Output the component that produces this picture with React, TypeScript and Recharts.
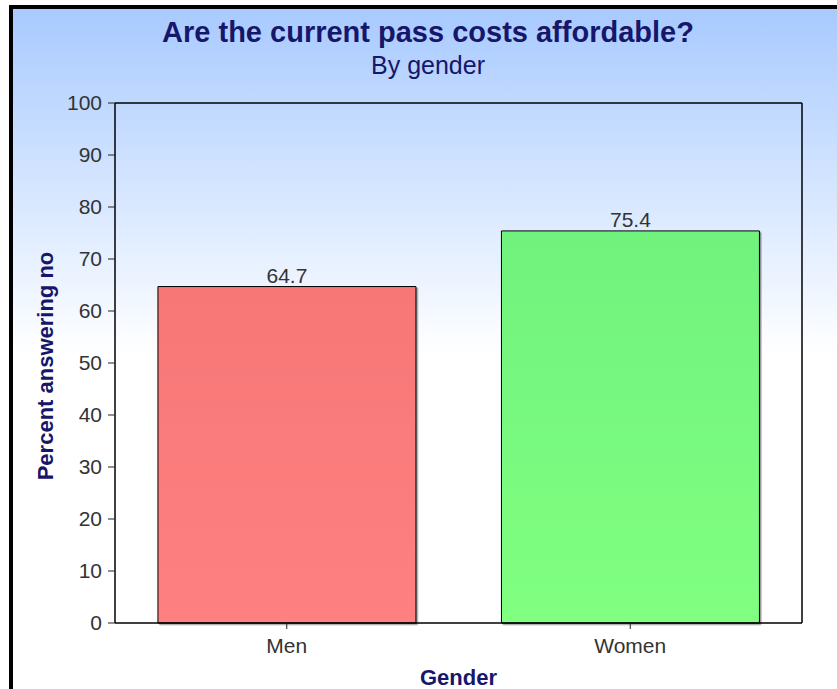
import { BarChart, Bar, XAxis, YAxis, Cell, LabelList, CartesianGrid } from "recharts";

const genders = ["Men", "Women"];
const percentNo = [64.7, 75.4];
const yTicks = [0, 10, 20, 30, 40, 50, 60, 70, 80, 90, 100];
const barFills = ["url(#gradMen)", "url(#gradWomen)"];

const chartData = genders.map((g, i) => ({ gender: g, value: percentNo[i] }));

const FONT = "'Liberation Sans', Arial, sans-serif";
const NAVY = "#16166b";

const YTitle = ({ viewBox }: any) => {
  const cx = viewBox.x + 32;
  const cy = viewBox.y + viewBox.height / 2 + 3;
  return (
    <text
      x={cx}
      y={cy}
      transform={`rotate(-90 ${cx} ${cy})`}
      textAnchor="middle"
      dominantBaseline="central"
      fill={NAVY}
      fontWeight="bold"
      fontSize={22}
      fontFamily={FONT}
    >
      Percent answering no
    </text>
  );
};

const XTitle = ({ viewBox }: any) => (
  <text
    x={viewBox.x + viewBox.width / 2}
    y={viewBox.y + 62}
    textAnchor="middle"
    fill={NAVY}
    fontWeight="bold"
    fontSize={22}
    fontFamily={FONT}
  >
    Gender
  </text>
);

const App = () => {
  return (
    <div
      style={{
        position: "fixed",
        left: 0,
        top: 0,
        width: 837,
        height: 689,
        background: "#fff",
        overflow: "hidden",
      }}
    >
      <div
        style={{
          position: "absolute",
          left: 9,
          top: 5,
          width: 824,
          height: 680,
          borderTop: "4px solid #000",
          borderLeft: "4px solid #000",
          background: "linear-gradient(to bottom, #a8caff 0px, #ffffff 345px)",
          fontFamily: FONT,
        }}
      >
        <BarChart
          width={824}
          height={680}
          data={chartData}
          margin={{ top: 94, right: 35, left: 0, bottom: 0 }}
          barCategoryGap="12.5%"
        >
          <defs>
            <linearGradient id="gradMen" x1="0" y1="0" x2="0" y2="1">
              <stop offset="0%" stopColor="#f77777" />
              <stop offset="100%" stopColor="#ff8080" />
            </linearGradient>
            <linearGradient id="gradWomen" x1="0" y1="0" x2="0" y2="1">
              <stop offset="0%" stopColor="#70f27e" />
              <stop offset="100%" stopColor="#80ff80" />
            </linearGradient>
            <filter id="shadow" x="-5%" y="-5%" width="110%" height="110%">
              <feDropShadow dx="1.5" dy="1.5" stdDeviation="0.7" floodColor="#000" floodOpacity="0.4" />
            </filter>
          </defs>
          <text x={415} y={33} textAnchor="middle" fill={NAVY} fontWeight="bold" fontSize={29} fontFamily={FONT}>
            Are the current pass costs affordable?
          </text>
          <text x={415} y={65} textAnchor="middle" fill={NAVY} fontSize={25} fontFamily={FONT}>
            By gender
          </text>
          {/* plot frame: top and right edges */}
          <CartesianGrid
            stroke="#000"
            strokeWidth={1.5}
            horizontalCoordinatesGenerator={({ offset }: any) => [offset.top]}
            verticalCoordinatesGenerator={({ offset }: any) => [offset.left + offset.width]}
          />
          <XAxis
            dataKey="gender"
            height={66}
            interval={0}
            tickSize={6}
            tickMargin={9}
            axisLine={{ stroke: "#000", strokeWidth: 1.5 }}
            tickLine={{ stroke: "#222" }}
            tick={{ fill: "#333", fontSize: 21, fontFamily: FONT }}
            label={<XTitle />}
          />
          <YAxis
            domain={[0, 100]}
            ticks={yTicks}
            width={102}
            tickSize={7}
            tickMargin={6}
            axisLine={{ stroke: "#000", strokeWidth: 1.5 }}
            tickLine={{ stroke: "#222" }}
            tick={{ fill: "#333", fontSize: 21, fontFamily: FONT }}
            label={<YTitle />}
          />
          <Bar
            dataKey="value"
            isAnimationActive={false}
            stroke="#000"
            strokeWidth={1}
            filter="url(#shadow)"
          >
            {chartData.map((entry, index) => (
              <Cell key={`cell-${entry.gender}`} fill={barFills[index]} />
            ))}
            <LabelList
              dataKey="value"
              position="top"
              offset={4}
              fill="#333"
              fontSize={21}
              fontFamily={FONT}
            />
          </Bar>
        </BarChart>
      </div>
    </div>
  );
};

export default App;
